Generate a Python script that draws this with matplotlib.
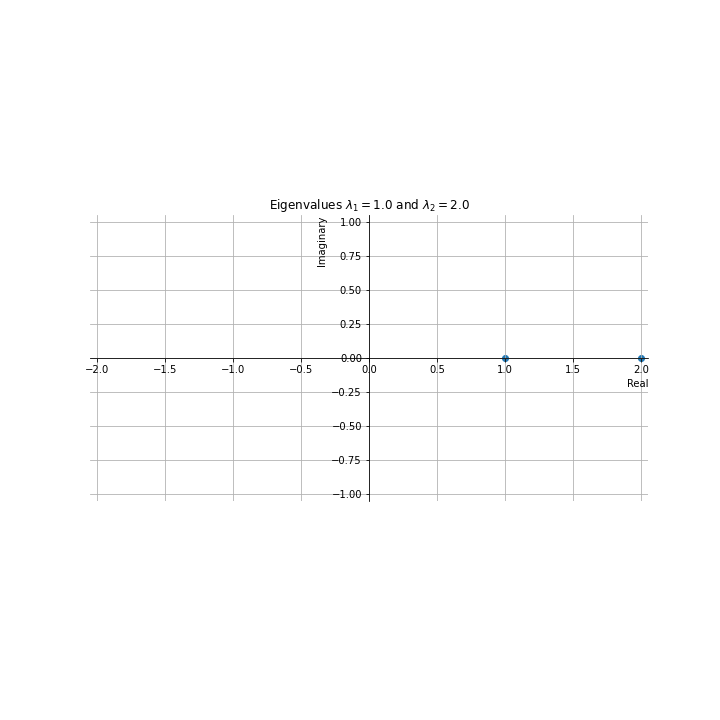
import matplotlib
matplotlib.use("Agg")
import matplotlib.pyplot as plt
import numpy as np

# eigenvalues (real, imaginary)
real_parts = [1.0, 2.0]
imag_parts = [0.0, 0.0]
lam1, lam2 = 1.0, 2.0

fig, ax = plt.subplots(figsize=(10, 10), dpi=72)
fig.subplots_adjust(bottom=0.12, top=0.885)

ax.scatter(real_parts, imag_parts)

ax.set_xlim(-2.05, 2.05)
ax.set_ylim(-1.05, 1.05)
ax.set_aspect("equal")

# eixos no zero
ax.spines["left"].set_position("zero")
ax.spines["bottom"].set_position("zero")
ax.spines["top"].set_visible(False)
ax.spines["right"].set_visible(False)

ax.set_xticks(np.arange(-2.0, 2.01, 0.5))
ax.set_yticks(np.arange(-1.0, 1.01, 0.25))

ax.set_xlabel("Real", loc="right")
ax.set_ylabel("Imaginary", loc="top")
ax.set_title(rf"Eigenvalues $\lambda_1 = {lam1}$ and $\lambda_2 = {lam2}$")
ax.grid(True)

plt.savefig("out.png")
